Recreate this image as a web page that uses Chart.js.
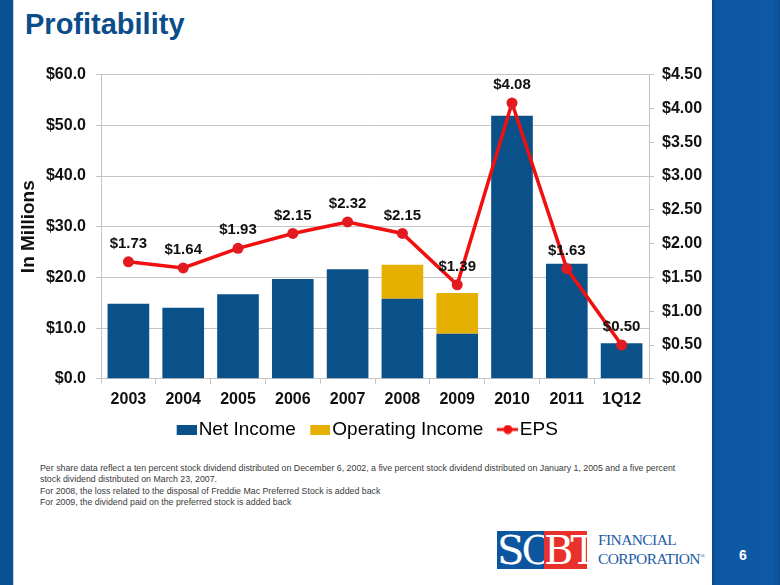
<!DOCTYPE html>
<html>
<head>
<meta charset="utf-8">
<script src="https://cdn.jsdelivr.net/npm/chart.js@4/dist/chart.umd.min.js"></script>
<style>
  html, body { margin: 0; padding: 0; background: #fff; }
  #page { position: relative; width: 780px; height: 585px; overflow: hidden; background: #fff; font-family: Arial, "Liberation Sans", sans-serif; }
  #leftBar { position: absolute; left: 0; top: 0; width: 13px; height: 585px; background: #0b4f94; border-right: 1px solid #c8d4e4; }
  #rightBar { position: absolute; left: 712px; top: 0; width: 68px; height: 585px; background: linear-gradient(to right, #0a4686 0px, #0d58a4 4px, #0d59a6 60px, #0b4f94 68px); }
  #title { position: absolute; left: 25px; top: 8px; font-size: 29px; font-weight: bold; color: #0b4d8a; }
  #chartBox { position: absolute; left: 13px; top: 55px; width: 699px; height: 398px; }
  #notes { position: absolute; left: 40px; top: 463px; width: 645px; font-size: 8.8px; line-height: 11.4px; color: #3a3a3a; }
  #pageNo { position: absolute; left: 739px; top: 547px; font-size: 14px; font-weight: bold; color: #fff; }
  #logo { position: absolute; left: 497px; top: 531px; height: 38px; }
  .blk { position: absolute; top: 0; height: 38px; color: #fff; font-family: "DejaVu Serif", "Liberation Serif", serif; font-size: 40px; line-height: 38px; overflow: hidden; text-align: center; letter-spacing: -3px; }
  #sc { left: 0; width: 47px; background: #0c56a0; }
  #bt { left: 47px; width: 43px; background: #e8312a; }
  #fin { position: absolute; left: 598px; top: 531px; color: #1c5ba6; font-family: "Liberation Serif", serif; font-size: 15.5px; line-height: 17px; letter-spacing: -0.6px; }
</style>
</head>
<body>
<div id="page">
  <div id="leftBar"></div>
  <div id="rightBar"></div>
  <div id="title">Profitability</div>
  <div id="chartBox"><canvas id="chart"></canvas></div>
  <div id="notes">
    Per share data reflect a ten percent stock dividend distributed on December 6, 2002, a five percent stock dividend distributed on January 1, 2005 and a five percent stock dividend distributed on March 23, 2007.<br>
    For 2008, the loss related to the disposal of Freddie Mac Preferred Stock is added back<br>
    For 2009, the dividend paid on the preferred stock is added back
  </div>
  <div id="logo">
    <div class="blk" id="sc">SC</div>
    <div class="blk" id="bt">BT</div>
  </div>
  <div id="fin">FINANCIAL<br>CORPORATION<sup style="font-size:7px">®</sup></div>
  <div id="pageNo">6</div>
</div>
<script>
// données
const categories = ['2003', '2004', '2005', '2006', '2007', '2008', '2009', '2010', '2011', '1Q12'];
const netIncome = [14.8, 14.0, 16.7, 19.7, 21.6, 15.8, 8.9, 51.9, 22.7, 7.0];
const operatingIncome = [null, null, null, null, null, 6.7, 8.0, null, null, null];
const eps = [1.73, 1.64, 1.93, 2.15, 2.32, 2.15, 1.39, 4.08, 1.63, 0.50];
const leftTicks = [0, 10, 20, 30, 40, 50, 60];
const rightTicks = [0, 0.5, 1, 1.5, 2, 2.5, 3, 3.5, 4, 4.5];

const NAVY = '#0b5189';
const GOLD = '#e6b000';
const RED = '#f01010';
const GRID = '#c4c4c4';

// petites images pour la légende (marge transparente à gauche pour l'espacement)
const LEG_W = 22;
function legendImg(kind, color) {
    const c = document.createElement('canvas');
    c.width = LEG_W + 15;
    c.height = 10;
    const g = c.getContext('2d');
    const x0 = c.width - 20;
    if (kind === 'line') {
        g.strokeStyle = color;
        g.lineWidth = 3;
        g.beginPath(); g.moveTo(x0 - 1, 5); g.lineTo(c.width, 5); g.stroke();
        g.fillStyle = color;
        g.beginPath(); g.arc(x0 + 10, 5, 4.5, 0, Math.PI * 2); g.fill();
    } else {
        g.fillStyle = color;
        g.fillRect(x0, 0, 20, 10);
    }
    return c;
}

// étiquettes EPS au-dessus des points
const epsLabels = {
    id: 'epsLabels',
    afterDatasetsDraw(chart) {
        const meta = chart.getDatasetMeta(2);
        const ctx = chart.ctx;
        ctx.save();
        ctx.font = 'bold 15px Arial, "Liberation Sans", sans-serif';
        ctx.fillStyle = '#111';
        ctx.textAlign = 'center';
        ctx.textBaseline = 'middle';
        meta.data.forEach(function(pt, i) {
            ctx.fillText('$' + eps[i].toFixed(2), pt.x, pt.y - 18);
        });
        ctx.restore();
    }
};

new Chart(document.getElementById('chart'), {
    type: 'bar',
    data: {
        labels: categories,
        datasets: [
            {
                label: 'Net Income',
                data: netIncome,
                backgroundColor: NAVY,
                yAxisID: 'y',
                stack: 'inc',
                order: 1,
                barPercentage: 0.76,
                categoryPercentage: 1
            },
            {
                label: 'Operating Income',
                data: operatingIncome,
                backgroundColor: GOLD,
                yAxisID: 'y',
                stack: 'inc',
                order: 1,
                barPercentage: 0.76,
                categoryPercentage: 1
            },
            {
                type: 'line',
                label: 'EPS',
                data: eps,
                yAxisID: 'y1',
                borderColor: RED,
                backgroundColor: '#e21a22',
                borderWidth: 3.5,
                pointRadius: 5.5,
                pointBackgroundColor: '#e21a22',
                pointBorderWidth: 0,
                tension: 0,
                order: 0
            }
        ]
    },
    options: {
        responsive: true,
        maintainAspectRatio: false,
        animation: false,
        layout: { padding: { top: 6, right: 0, bottom: 4, left: 0 } },
        plugins: {
            tooltip: { enabled: false },
            legend: {
                position: 'bottom',
                labels: {
                    usePointStyle: true,
                    pointStyleWidth: LEG_W,
                    padding: 5,
                    color: '#111',
                    font: { family: 'Arial, "Liberation Sans", sans-serif', size: 19 },
                    generateLabels: function(chart) {
                        return [
                            { text: 'Net Income', pointStyle: legendImg('box', NAVY), datasetIndex: 0, fillStyle: NAVY, strokeStyle: NAVY, lineWidth: 0 },
                            { text: 'Operating Income', pointStyle: legendImg('box', GOLD), datasetIndex: 1, fillStyle: GOLD, strokeStyle: GOLD, lineWidth: 0 },
                            { text: 'EPS', pointStyle: legendImg('line', RED), datasetIndex: 2, fillStyle: RED, strokeStyle: RED, lineWidth: 0 }
                        ];
                    }
                }
            }
        },
        scales: {
            x: {
                stacked: true,
                grid: { display: true, drawOnChartArea: false, drawTicks: true, tickLength: 5, color: GRID },
                border: { color: GRID },
                ticks: {
                    color: '#111',
                    padding: 6,
                    font: { family: 'Arial, "Liberation Sans", sans-serif', size: 16, weight: 'bold' }
                }
            },
            y: {
                stacked: true,
                position: 'left',
                min: 0,
                max: 60,
                afterBuildTicks: function(scale) {
                    scale.ticks = leftTicks.map(v => ({ value: v }));
                },
                afterFit: function(scale) { scale.width = 88; },
                grid: { color: GRID, tickLength: 5 },
                border: { color: GRID },
                title: {
                    display: true,
                    text: 'In Millions',
                    color: '#111',
                    font: { family: 'Arial, "Liberation Sans", sans-serif', size: 19, weight: 'bold' }
                },
                ticks: {
                    color: '#111',
                    padding: 10,
                    font: { family: 'Arial, "Liberation Sans", sans-serif', size: 16, weight: 'bold' },
                    callback: v => '$' + Number(v).toFixed(1)
                }
            },
            y1: {
                position: 'right',
                min: 0,
                max: 4.5,
                afterBuildTicks: function(scale) {
                    scale.ticks = rightTicks.map(v => ({ value: v }));
                },
                afterFit: function(scale) { scale.width = 63; },
                grid: { drawOnChartArea: false, color: GRID, tickLength: 5 },
                border: { color: GRID },
                ticks: {
                    color: '#111',
                    padding: 8,
                    font: { family: 'Arial, "Liberation Sans", sans-serif', size: 16, weight: 'bold' },
                    callback: v => '$' + Number(v).toFixed(2)
                }
            }
        }
    },
    plugins: [epsLabels]
});
</script>
</body>
</html>
